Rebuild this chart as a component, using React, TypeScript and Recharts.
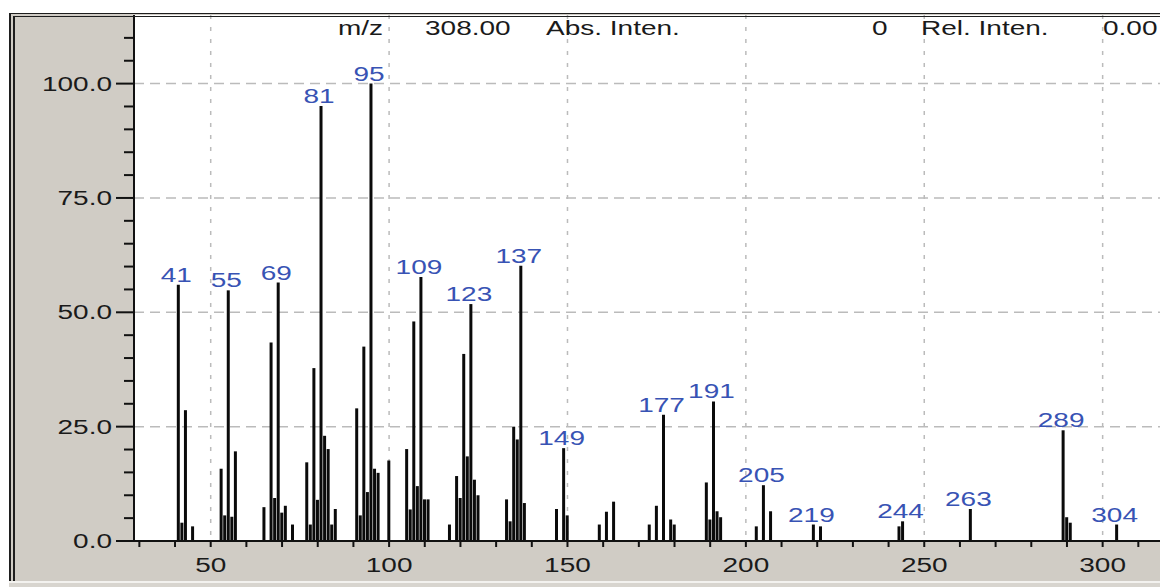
import { BarChart, Bar, XAxis, YAxis, CartesianGrid, LabelList } from 'recharts'

// m/z positions and relative intensities (%)
const masses = [
  41, 42, 43, 45, 53, 54, 55, 56, 57, 65, 67, 68, 69, 70, 71, 73, 77, 78, 79, 80,
  81, 82, 83, 84, 85, 91, 92, 93, 94, 95, 96, 97, 100, 105, 106, 107, 108, 109, 110, 111,
  117, 119, 120, 121, 122, 123, 124, 125, 133, 134, 135, 136, 137, 138, 147, 149, 150,
  159, 161, 163, 173, 175, 177, 179, 180, 189, 190, 191, 192, 193, 203, 205, 207,
  219, 221, 243, 244, 263, 289, 290, 291, 304,
]
const intensities = [
  56.0, 4.0, 28.6, 3.2, 15.8, 5.6, 54.8, 5.3, 19.6, 7.4, 43.4, 9.4, 56.5, 6.2, 7.7, 3.6, 17.2, 3.6, 37.8, 9.0,
  95.1, 23.0, 20.1, 3.6, 7.0, 29.0, 5.6, 42.5, 10.7, 100, 15.8, 14.9, 17.6, 20.1, 6.9, 48.0, 12.0, 57.7, 9.1, 9.1,
  3.6, 14.2, 9.4, 40.9, 18.5, 51.8, 13.4, 10.0, 9.1, 4.3, 25.0, 22.2, 60.2, 8.3, 7.0, 20.3, 5.6,
  3.6, 6.4, 8.6, 3.6, 7.7, 27.6, 4.7, 3.6, 12.8, 4.7, 30.5, 6.5, 5.2, 3.2, 12.2, 6.5,
  3.6, 3.2, 3.2, 4.3, 7.0, 24.2, 5.2, 4.0, 3.6,
]
const labeledMasses = [41, 55, 69, 81, 95, 109, 123, 137, 149, 177, 191, 205, 219, 244, 263, 289, 304]

const xTicks = [30, 40, 50, 60, 70, 80, 90, 100, 110, 120, 130, 140, 150, 160, 170, 180, 190, 200, 210, 220, 230, 240, 250, 260, 270, 280, 290, 300, 310, 320]
const xLabelTicks = [50, 100, 150, 200, 250, 300]
const yTicks = [0, 5, 10, 15, 20, 25, 30, 35, 40, 45, 50, 55, 60, 65, 70, 75, 80, 85, 90, 95, 100, 105, 110]
const yLabelTicks = [0, 25, 50, 75, 100]

const chartData = masses.map((m, i) => ({
  mz: m,
  inten: intensities[i],
  label: labeledMasses.includes(m) ? String(m) : '',
}))

const FONT = '"Liberation Sans", Arial, sans-serif'
const STRETCH = 1.4
const PANEL = '#d0ccc5'

function XTick({ x, y, payload }: any) {
  const v = payload.value
  return (
    <g>
      <line x1={x} y1={y} x2={x} y2={y + 6} stroke="#111" strokeWidth={2} />
      {xLabelTicks.includes(v) && (
        <text
          transform={`translate(${x},${y + 24}) scale(${STRETCH},1)`}
          textAnchor="middle"
          dy="0.35em"
          fontSize={20}
          fontFamily={FONT}
          fill="#1a1a1a"
        >
          {v}
        </text>
      )}
    </g>
  )
}

function YTick({ x, y, payload }: any) {
  const v = payload.value
  const major = yLabelTicks.includes(v)
  return (
    <g>
      <line x1={x - (major ? 18 : 10)} y1={y} x2={x} y2={y} stroke="#111" strokeWidth={2} />
      {major && (
        <text
          transform={`translate(${x - 22},${y}) scale(${STRETCH},1)`}
          textAnchor="end"
          dy="0.35em"
          fontSize={20}
          fontFamily={FONT}
          fill="#1a1a1a"
        >
          {v.toFixed(1)}
        </text>
      )}
    </g>
  )
}

function PeakLabel({ x, y, width, value }: any) {
  if (!value) return null
  return (
    <text
      transform={`translate(${x + width / 2 - 2},${y - 3}) scale(${STRETCH},1)`}
      textAnchor="middle"
      fontSize={20}
      fontFamily={FONT}
      fill="#3853b4"
    >
      {value}
    </text>
  )
}

function Header() {
  const items = [
    { text: 'm/z', x: 338 },
    { text: '308.00', x: 425 },
    { text: 'Abs. Inten.', x: 546 },
    { text: '0', x: 872 },
    { text: 'Rel. Inten.', x: 921 },
    { text: '0.00', x: 1103 },
  ]
  return (
    <svg width={1160} height={50} style={{ position: 'absolute', left: 0, top: 0 }}>
      {items.map((it) => (
        <text
          key={it.text}
          transform={`translate(${it.x},35) scale(${STRETCH},1)`}
          fontSize={20}
          fontFamily={FONT}
          fill="#1a1a1a"
        >
          {it.text}
        </text>
      ))}
    </svg>
  )
}

export default function App() {
  return (
    <div style={{ position: 'absolute', left: 0, top: 0, width: 1160, height: 587, overflow: 'hidden', background: '#fff' }}>
      <div style={{ position: 'absolute', left: 9, top: 13, width: 1200, height: 568, background: PANEL }} />
      <div style={{ position: 'absolute', left: 9, top: 581, width: 1200, height: 2, background: '#f3f2ef' }} />
      <div style={{ position: 'absolute', left: 9, top: 583, width: 1200, height: 4, background: '#d8d5cf' }} />
      <BarChart
        width={1200}
        height={587}
        data={chartData}
        margin={{ top: 15, right: 26, bottom: 6, left: 74 }}
        style={{ position: 'absolute', left: 0, top: 0 }}
      >
        <CartesianGrid
          fill="#fff"
          horizontal
          vertical={false}
          horizontalValues={[25, 50, 75, 100]}
          stroke="#bbbbbb"
          strokeWidth={1.5}
          strokeDasharray="10 6"
        />
        <CartesianGrid
          horizontal={false}
          vertical
          verticalValues={[50, 100, 150, 200, 250, 300]}
          stroke="#bbbbbb"
          strokeWidth={1.5}
          strokeDasharray="4 8"
        />
        <XAxis
          dataKey="mz"
          type="number"
          domain={[28.5, 320]}
          allowDataOverflow
          ticks={xTicks}
          interval={0}
          height={40}
          tickSize={0}
          tickMargin={0}
          tickLine={false}
          axisLine={{ stroke: '#111', strokeWidth: 2 }}
          tick={<XTick />}
        />
        <YAxis
          type="number"
          domain={[0, 115]}
          allowDataOverflow
          ticks={yTicks}
          interval={0}
          width={60}
          tickSize={0}
          tickMargin={0}
          tickLine={false}
          axisLine={{ stroke: '#111', strokeWidth: 2 }}
          tick={<YTick />}
        />
        <Bar dataKey="inten" fill="#0a0a0a" barSize={3} isAnimationActive={false}>
          <LabelList dataKey="label" content={<PeakLabel />} />
        </Bar>
      </BarChart>
      <div
        style={{
          position: 'absolute',
          left: 9,
          top: 13,
          width: 1200,
          height: 568,
          boxSizing: 'border-box',
          borderTop: '4px double #1e1e1e',
          borderLeft: '6px double #1e1e1e',
          pointerEvents: 'none',
        }}
      />
      <Header />
    </div>
  )
}
